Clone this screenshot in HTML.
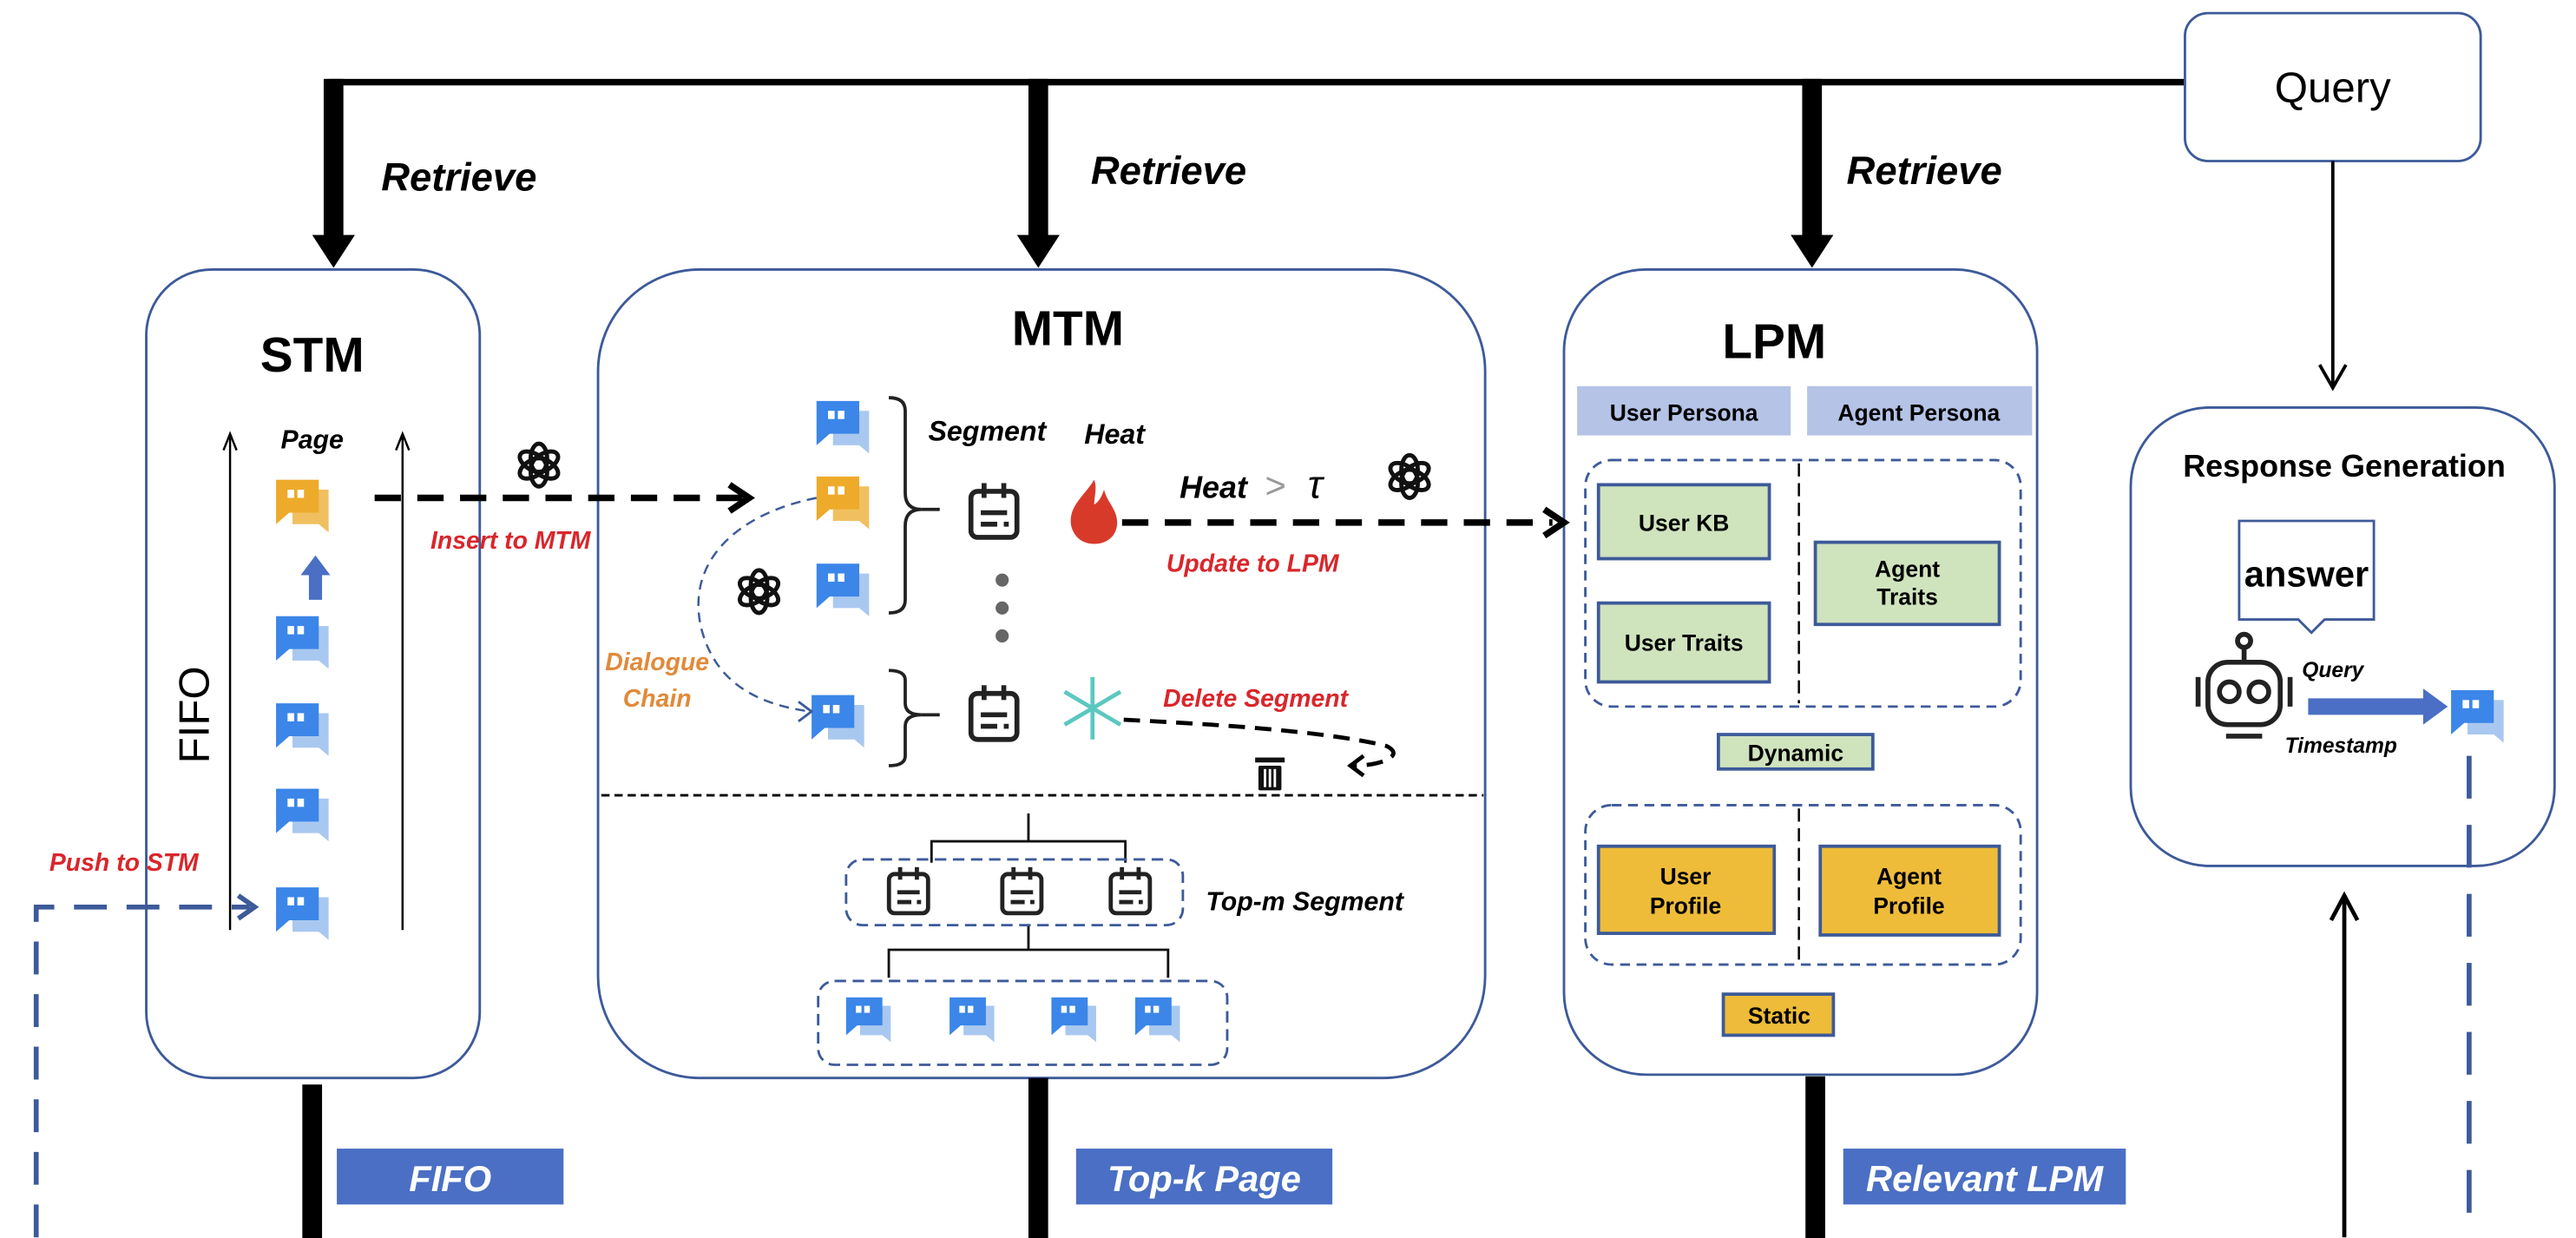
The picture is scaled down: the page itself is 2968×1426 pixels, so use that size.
<!DOCTYPE html>
<html><head><meta charset="utf-8"><style>
html,body{margin:0;padding:0;background:#fff;}
svg{display:block;}
text{font-family:"Liberation Sans",Arial,sans-serif;}
.bi{font-weight:bold;font-style:italic;}
.b{font-weight:bold;}
.red{fill:#d9262b;}
</style></head><body>
<svg width="2968" height="1426" viewBox="0 0 1568 753.4" xmlns="http://www.w3.org/2000/svg">
<defs>
<g id="chat">
 <path d="M10,6 h22 v26 l-6,-5 h-16 z" fill="#a9c8f0"/>
 <path d="M0,0 h26 v20 h-18 l-8,7 z" fill="#3b86e8"/>
 <rect x="7" y="6" width="4" height="5" fill="#fff"/><rect x="13" y="6" width="4" height="5" fill="#fff"/>
</g>
<g id="chatO">
 <path d="M10,6 h22 v26 l-6,-5 h-16 z" fill="#f0c060"/>
 <path d="M0,0 h26 v20 h-18 l-8,7 z" fill="#eeaa2a"/>
 <rect x="7" y="6" width="4" height="5" fill="#fff"/><rect x="13" y="6" width="4" height="5" fill="#fff"/>
</g>
<g id="cal" fill="none" stroke="#222" stroke-width="3">
 <rect x="-14" y="-13" width="28" height="28" rx="4"/>
 <line x1="-6" y1="-18" x2="-6" y2="-9"/><line x1="6" y1="-18" x2="6" y2="-9"/>
 <line x1="-8" y1="0" x2="8" y2="0"/><line x1="-8" y1="7" x2="2" y2="7"/><line x1="6" y1="7" x2="9" y2="7"/>
</g>
<g id="oai" fill="none" stroke="#111" stroke-width="2.6">
 <ellipse cx="0" cy="-4" rx="5" ry="9"/><ellipse cx="0" cy="-4" rx="5" ry="9" transform="rotate(60)"/><ellipse cx="0" cy="-4" rx="5" ry="9" transform="rotate(120)"/>
 <ellipse cx="0" cy="-4" rx="5" ry="9" transform="rotate(180)"/><ellipse cx="0" cy="-4" rx="5" ry="9" transform="rotate(240)"/><ellipse cx="0" cy="-4" rx="5" ry="9" transform="rotate(300)"/>
</g>
</defs>

<!-- top line -->
<line x1="200" y1="50" x2="1330" y2="50" stroke="#000" stroke-width="4"/>
<rect x="1330" y="8" width="180" height="90" rx="14" fill="#fff" stroke="#3d5a99" stroke-width="1.5"/>
<text x="1420" y="62" font-size="26" text-anchor="middle">Query</text>

<!-- retrieve arrows -->
<g fill="#000">
<rect x="197" y="48" width="12" height="96"/><polygon points="190,143 216,143 203,163"/>
<rect x="626" y="48" width="12" height="96"/><polygon points="619,143 645,143 632,163"/>
<rect x="1097" y="48" width="12" height="96"/><polygon points="1090,143 1116,143 1103,163"/>
</g>
<text x="232" y="116" font-size="24" class="bi">Retrieve</text>
<text x="664" y="112" font-size="24" class="bi">Retrieve</text>
<text x="1124" y="112" font-size="24" class="bi">Retrieve</text>

<!-- query down arrow -->
<line x1="1420" y1="98" x2="1420" y2="235" stroke="#000" stroke-width="2"/>
<polyline points="1412,222 1420,236 1428,222" fill="none" stroke="#000" stroke-width="2"/>

<!-- boxes -->
<rect x="89" y="164" width="203" height="492" rx="40" fill="#fff" stroke="#3d5a99" stroke-width="1.5"/>
<rect x="364" y="164" width="540" height="492" rx="62" fill="#fff" stroke="#3d5a99" stroke-width="1.5"/>
<rect x="952" y="164" width="288" height="490" rx="50" fill="#fff" stroke="#3d5a99" stroke-width="1.5"/>
<rect x="1297" y="248" width="258" height="279" rx="48" fill="#fff" stroke="#3d5a99" stroke-width="1.5"/>

<text x="190" y="226" font-size="30" class="b" text-anchor="middle">STM</text>
<text x="650" y="210" font-size="30" class="b" text-anchor="middle">MTM</text>
<text x="1080" y="218" font-size="30" class="b" text-anchor="middle">LPM</text>
<text x="1427" y="290" font-size="19" class="b" text-anchor="middle">Response Generation</text>

<!-- STM inner -->
<g stroke="#000" stroke-width="1.3" fill="none">
<line x1="140" y1="266" x2="140" y2="566"/><polyline points="136,274 140,264 144,274"/>
<line x1="245" y1="266" x2="245" y2="566"/><polyline points="241,274 245,264 249,274"/>
</g>
<text x="190" y="273" font-size="16" class="bi" text-anchor="middle">Page</text>
<use href="#chatO" x="168" y="292"/>
<polygon points="188,365 188,350 183,350 192,338 201,350 196,350 196,365" fill="#4a6fc4"/>
<use href="#chat" x="168" y="375"/>
<use href="#chat" x="168" y="428"/>
<use href="#chat" x="168" y="480"/>
<use href="#chat" x="168" y="540"/>
<text transform="translate(127,435) rotate(-90)" font-size="26" text-anchor="middle">FIFO</text>
<text x="30" y="530" font-size="15" class="bi red">Push to STM</text>
<text x="262" y="334" font-size="15" class="bi red">Insert to MTM</text>
<line x1="228" y1="303" x2="452" y2="303" stroke="#000" stroke-width="4" stroke-dasharray="16,10"/>
<polyline points="444,295 456,303 444,311" fill="none" stroke="#000" stroke-width="4"/>
<use href="#oai" transform="translate(328,283)"/>

<!-- left feedback dashed -->
<polyline points="22,753 22,552 152,552" fill="none" stroke="#3d5a99" stroke-width="3" stroke-dasharray="20,12"/>
<polyline points="145,545 155,552 145,559" fill="none" stroke="#3d5a99" stroke-width="3"/>

<!-- MTM inner -->
<use href="#chat" x="497" y="244"/>
<use href="#chatO" x="497" y="290"/>
<use href="#chat" x="497" y="343"/>
<use href="#chat" x="494" y="423"/>
<path d="M541,242 q10,0 10,8 v50 q0,10 10,10 q-10,0 -10,10 v45 q0,8 -10,8" fill="none" stroke="#222" stroke-width="2"/>
<line x1="561" y1="310" x2="572" y2="310" stroke="#222" stroke-width="2"/>
<path d="M541,408 q10,0 10,6 v14 q0,7 10,7 q-10,0 -10,7 v18 q0,6 -10,6" fill="none" stroke="#222" stroke-width="2"/>
<line x1="561" y1="435" x2="572" y2="435" stroke="#222" stroke-width="2"/>
<use href="#cal" transform="translate(605,312)"/>
<use href="#cal" transform="translate(605,435)"/>
<circle cx="610" cy="353" r="4" fill="#666"/><circle cx="610" cy="370" r="4" fill="#666"/><circle cx="610" cy="387" r="4" fill="#666"/>
<text x="565" y="268" font-size="17" class="bi">Segment</text>
<text x="660" y="270" font-size="17" class="bi">Heat</text>
<path d="M666,292 c-6,10 -16,16 -14,28 c2,8 8,11 14,11 c8,0 14,-5 14,-13 c0,-8 -6,-12 -8,-20 c-2,6 -4,8 -6,9 c0,-5 2,-10 0,-15 z" fill="#d83a2a"/>
<g stroke="#5bc8c0" stroke-width="2.5"><line x1="665" y1="412" x2="665" y2="450"/><line x1="648" y1="421" x2="682" y2="441"/><line x1="648" y1="441" x2="682" y2="421"/></g>
<text x="718" y="303" font-size="19" class="bi">Heat</text>
<text x="770" y="303" font-size="22" fill="#999">&gt;</text>
<text x="796" y="303" font-size="24" font-style="italic" font-family="Liberation Serif">τ</text>
<use href="#oai" transform="translate(858,290)"/>
<use href="#oai" transform="translate(462,360)"/>
<line x1="683" y1="318" x2="945" y2="318" stroke="#000" stroke-width="4" stroke-dasharray="16,10"/>
<polyline points="940,310 952,318 940,326" fill="none" stroke="#000" stroke-width="4"/>
<text x="710" y="348" font-size="15" class="bi red">Update to LPM</text>
<text x="708" y="430" font-size="15" class="bi red">Delete Segment</text>
<path d="M684,438 c40,2 120,6 160,16 c12,6 -4,12 -20,12" fill="none" stroke="#000" stroke-width="2.5" stroke-dasharray="10,6"/>
<polyline points="830,460 822,466 830,472" fill="none" stroke="#000" stroke-width="2.5"/>
<g fill="#111"><rect x="764" y="461" width="18" height="3"/><rect x="766" y="466" width="14" height="15" rx="1"/></g>
<g stroke="#fff" stroke-width="1.5"><line x1="770" y1="468" x2="770" y2="479"/><line x1="773" y1="468" x2="773" y2="479"/><line x1="776" y1="468" x2="776" y2="479"/></g>
<text x="400" y="408" font-size="15" class="bi" fill="#e08a3a" text-anchor="middle">Dialogue</text>
<text x="400" y="430" font-size="15" class="bi" fill="#e08a3a" text-anchor="middle">Chain</text>
<path d="M497,303 c-50,10 -80,40 -70,80 c8,30 30,45 66,50" fill="none" stroke="#3d5a99" stroke-width="1.3" stroke-dasharray="6,4"/>
<polyline points="486,427 494,433 486,439" fill="none" stroke="#3d5a99" stroke-width="1.5"/>
<line x1="366" y1="484" x2="903" y2="484" stroke="#000" stroke-width="1.5" stroke-dasharray="5,3"/>
<g fill="none" stroke="#111" stroke-width="1.5">
<line x1="626" y1="495" x2="626" y2="512"/><polyline points="567,525 567,512 685,512 685,525"/>
<line x1="626" y1="563" x2="626" y2="578"/><polyline points="541,595 541,578 711,578 711,595"/>
</g>
<rect x="515" y="523" width="205" height="40" rx="10" fill="none" stroke="#3d5a99" stroke-width="1.5" stroke-dasharray="7,4"/>
<use href="#cal" transform="translate(553,543) scale(0.85)"/>
<use href="#cal" transform="translate(622,543) scale(0.85)"/>
<use href="#cal" transform="translate(688,543) scale(0.85)"/>
<text x="734" y="554" font-size="16" class="bi">Top-m Segment</text>
<rect x="498" y="597" width="249" height="51" rx="10" fill="none" stroke="#3d5a99" stroke-width="1.5" stroke-dasharray="7,4"/>
<use href="#chat" transform="translate(515,607) scale(0.85)"/>
<use href="#chat" transform="translate(578,607) scale(0.85)"/>
<use href="#chat" transform="translate(640,607) scale(0.85)"/>
<use href="#chat" transform="translate(691,607) scale(0.85)"/>

<!-- LPM inner -->
<rect x="960" y="235" width="130" height="30" fill="#b4c3e6"/>
<rect x="1100" y="235" width="137" height="30" fill="#b4c3e6"/>
<text x="1025" y="256" font-size="14" class="b" text-anchor="middle">User Persona</text>
<text x="1168" y="256" font-size="14" class="b" text-anchor="middle">Agent Persona</text>
<rect x="965" y="280" width="265" height="150" rx="16" fill="none" stroke="#3d5a99" stroke-width="1.5" stroke-dasharray="6,4"/>
<line x1="1095" y1="282" x2="1095" y2="428" stroke="#000" stroke-width="1.3" stroke-dasharray="8,4"/>
<g stroke="#3d5a99" stroke-width="2" fill="#cfe3bd">
<rect x="973" y="295" width="104" height="45"/><rect x="973" y="367" width="104" height="48"/><rect x="1105" y="330" width="112" height="50"/>
<rect x="1046" y="447" width="94" height="21"/>
</g>
<text x="1025" y="323" font-size="14" class="b" text-anchor="middle">User KB</text>
<text x="1025" y="396" font-size="14" class="b" text-anchor="middle">User Traits</text>
<text x="1161" y="351" font-size="14" class="b" text-anchor="middle">Agent</text>
<text x="1161" y="368" font-size="14" class="b" text-anchor="middle">Traits</text>
<text x="1093" y="463" font-size="14" class="b" text-anchor="middle">Dynamic</text>
<rect x="965" y="490" width="265" height="97" rx="16" fill="none" stroke="#3d5a99" stroke-width="1.5" stroke-dasharray="6,4"/>
<line x1="1095" y1="492" x2="1095" y2="585" stroke="#000" stroke-width="1.3" stroke-dasharray="8,4"/>
<g stroke="#3d5a99" stroke-width="2" fill="#eebc38">
<rect x="973" y="515" width="107" height="53"/><rect x="1108" y="515" width="109" height="54"/><rect x="1049" y="605" width="67" height="25"/>
</g>
<text x="1026" y="538" font-size="14" class="b" text-anchor="middle">User</text>
<text x="1026" y="556" font-size="14" class="b" text-anchor="middle">Profile</text>
<text x="1162" y="538" font-size="14" class="b" text-anchor="middle">Agent</text>
<text x="1162" y="556" font-size="14" class="b" text-anchor="middle">Profile</text>
<text x="1083" y="623" font-size="14" class="b" text-anchor="middle">Static</text>

<!-- Response inner -->
<path d="M1363,317 h82 v60 h-30 l-8,8 l-8,-8 h-36 z" fill="#fff" stroke="#3d5a99" stroke-width="1.5"/>
<text x="1404" y="357" font-size="22" class="b" text-anchor="middle">answer</text>
<g fill="none" stroke="#222" stroke-width="3">
<circle cx="1366" cy="390" r="4"/><line x1="1366" y1="394" x2="1366" y2="403"/>
<rect x="1344" y="403" width="44" height="38" rx="12"/>
<circle cx="1357" cy="421" r="6"/><circle cx="1375" cy="421" r="6"/>
<line x1="1338" y1="412" x2="1338" y2="430"/><line x1="1394" y1="412" x2="1394" y2="430"/>
<line x1="1355" y1="448" x2="1377" y2="448"/>
</g>
<text x="1420" y="412" font-size="13" class="bi" text-anchor="middle">Query</text>
<polygon points="1405,425 1475,425 1475,419 1490,430 1475,441 1475,435 1405,435" fill="#4a6fc4"/>
<use href="#chat" x="1492" y="420"/>
<text x="1425" y="458" font-size="13" class="bi" text-anchor="middle">Timestamp</text>
<line x1="1503" y1="460" x2="1503" y2="753" stroke="#3d5a99" stroke-width="3" stroke-dasharray="26,16"/>
<line x1="1427" y1="753" x2="1427" y2="547" stroke="#000" stroke-width="2.5"/>
<polyline points="1419,560 1427,545 1435,560" fill="none" stroke="#000" stroke-width="2.5"/>

<!-- bottom bars -->
<rect x="184" y="660" width="12" height="94" fill="#000"/>
<rect x="626" y="656" width="12" height="98" fill="#000"/>
<rect x="1099" y="655" width="12" height="99" fill="#000"/>
<rect x="205" y="699" width="138" height="34" fill="#4a6fc4"/>
<rect x="655" y="699" width="156" height="34" fill="#4a6fc4"/>
<rect x="1122" y="699" width="172" height="34" fill="#4a6fc4"/>
<text x="274" y="725" font-size="22" class="bi" fill="#fff" text-anchor="middle">FIFO</text>
<text x="733" y="725" font-size="22" class="bi" fill="#fff" text-anchor="middle">Top-k Page</text>
<text x="1208" y="725" font-size="22" class="bi" fill="#fff" text-anchor="middle">Relevant LPM</text>
</svg>
</body></html>
